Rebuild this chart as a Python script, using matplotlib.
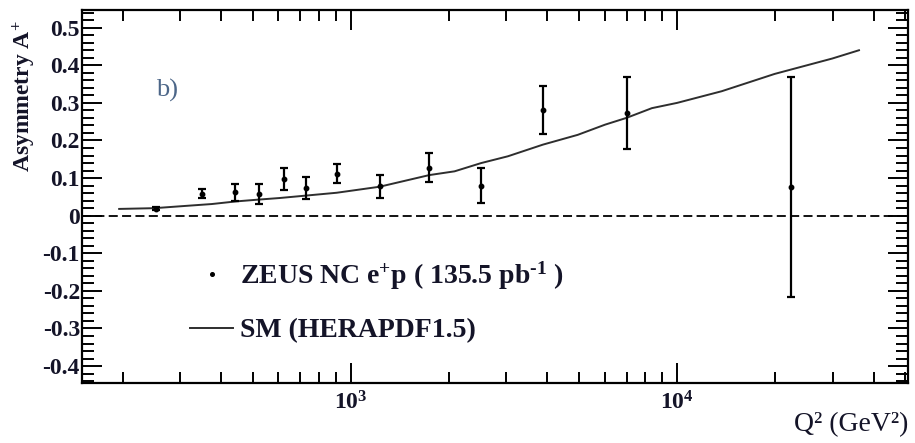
import math
import matplotlib
matplotlib.use("Agg")
import matplotlib.pyplot as plt
from matplotlib.ticker import FixedLocator, FuncFormatter, MultipleLocator, LogLocator, NullFormatter
from matplotlib.lines import Line2D

plt.rcParams['font.family'] = ['Liberation Serif', 'DejaVu Serif']
plt.rcParams['mathtext.fontset'] = 'custom'
plt.rcParams['mathtext.rm'] = 'Liberation Serif:bold'
plt.rcParams['mathtext.bf'] = 'Liberation Serif:bold'
plt.rcParams['mathtext.it'] = 'Liberation Serif:bold:italic'
plt.rcParams['mathtext.default'] = 'bf'
plt.rcParams['axes.unicode_minus'] = False

# ZEUS NC e+p asymmetry measurements
q2_data = [253, 350, 442, 523, 622, 731, 908, 1227, 1738, 2507, 3890, 7000, 22400]
asym_data = [0.019, 0.059, 0.062, 0.057, 0.098, 0.074, 0.112, 0.078, 0.128,
             0.080, 0.282, 0.273, 0.076]
asym_err = [0.004, 0.012, 0.022, 0.026, 0.030, 0.030, 0.026, 0.030, 0.038,
            0.047, 0.064, 0.096, 0.293]

# Standard Model prediction (HERAPDF1.5)
q2_sm = [195, 250, 300, 375, 445, 525, 605, 905, 1225, 1740, 2080, 2510, 3030,
         3880, 4960, 6010, 6990, 8370, 10000, 13700, 19900, 29900, 36100]
asym_sm = [0.018, 0.020, 0.025, 0.031, 0.038, 0.043, 0.047, 0.061, 0.077, 0.108,
           0.118, 0.140, 0.158, 0.189, 0.215, 0.242, 0.260, 0.286, 0.300, 0.331,
           0.377, 0.418, 0.440]

y_major = [-0.4, -0.3, -0.2, -0.1, 0.0, 0.1, 0.2, 0.3, 0.4, 0.5]
x_labeled = [1e3, 1e4]

ink = '#141428'

fig = plt.figure(figsize=(9.15, 4.43), dpi=100)
ax = fig.add_axes([0.0896, 0.1354, 0.9027, 0.8420])

ax.set_xscale('log')
ax.set_xlim(150, 51000)
ax.set_ylim(-0.445, 0.547)

ax.axhline(0.0, color='black', lw=1.3, dashes=(5.0, 2.4), zorder=1)

ax.plot(q2_sm, asym_sm, color='#2e2e2e', lw=1.4, zorder=2)
ax.errorbar(q2_data, asym_data, yerr=asym_err, fmt='o', ms=3.2, color='black',
            ecolor='black', elinewidth=1.6, capsize=3.0, capthick=1.6, zorder=3)

# axis styling
for sp in ax.spines.values():
    sp.set_linewidth(1.6)
ax.tick_params(which='both', direction='in', top=True, right=True, width=1.4,
               colors='black')
ax.tick_params(axis='y', which='major', length=14.5, pad=1.5)
ax.tick_params(axis='y', which='minor', length=8.5)
ax.tick_params(axis='x', which='major', length=14.5, pad=6)
ax.tick_params(axis='x', which='minor', length=8.0)

ax.yaxis.set_major_locator(FixedLocator(y_major))
ax.yaxis.set_minor_locator(MultipleLocator(0.02))
ax.yaxis.set_major_formatter(FuncFormatter(lambda v, p: '0' if abs(v) < 1e-9 else f'{v:.1f}'))

ax.xaxis.set_major_locator(FixedLocator(x_labeled))
ax.xaxis.set_minor_locator(LogLocator(base=10, subs=[2, 3, 4, 5, 6, 7, 8, 9], numticks=20))
ax.xaxis.set_minor_formatter(NullFormatter())
ax.xaxis.set_major_formatter(FuncFormatter(lambda v, p: r'$10^{%d}$' % round(math.log10(v))))

for lab in ax.get_yticklabels():
    lab.set_fontsize(17)
    lab.set_fontweight('bold')
    lab.set_color(ink)
for lab in ax.get_xticklabels():
    lab.set_fontsize(17)
    lab.set_color(ink)

ax.set_ylabel(r'Asymmetry A$^{+}$', fontsize=17, fontweight='bold',
              color=ink, loc='top')
ax.yaxis.set_label_coords(-0.053, 0.973)
ax.set_xlabel('Q² (GeV²)', fontsize=20, color=ink, loc='right')
ax.xaxis.set_label_coords(1.0, -0.078)

ax.text(0.090, 0.785, 'b)', transform=ax.transAxes, fontsize=19,
        color='#4c6688', ha='left', va='center')

handles = [Line2D([], [], ls='none', marker='o', ms=2.6, color='black'),
           Line2D([], [], color='#2e2e2e', lw=1.4)]
labels = [r'ZEUS NC e$^{\text{+}}$p ( 135.5 pb$^{\text{-1}}$ )', 'SM (HERAPDF1.5)']
leg = ax.legend(handles, labels, loc='center left', bbox_to_anchor=(0.1308, 0.219),
                frameon=False, borderpad=0, borderaxespad=0, handlelength=1.55,
                handletextpad=0.25, labelspacing=0.95,
                prop={'family': 'Liberation Serif', 'weight': 'bold', 'size': 20})
for t in leg.get_texts():
    t.set_color(ink)

fig.savefig('out.png', dpi=100)
